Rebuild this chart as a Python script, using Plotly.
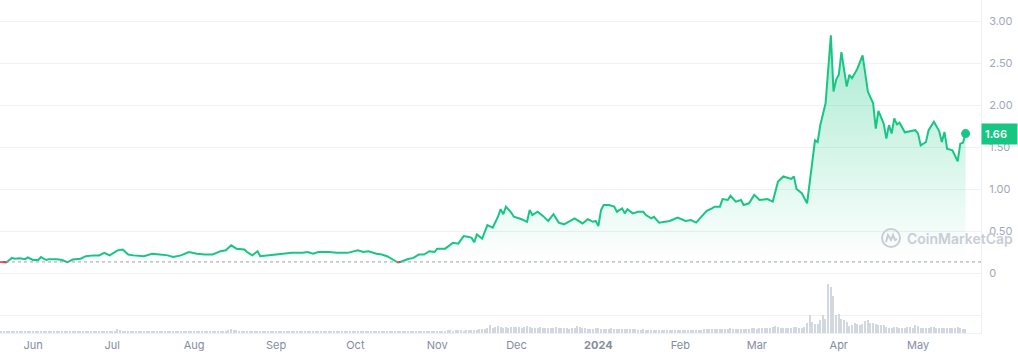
import plotly.graph_objects as go
import pandas as pd

# ---------------- data ----------------
price_dates = [
    "2023-05-19", "2023-05-22", "2023-05-24", "2023-05-25", "2023-05-27", "2023-05-29", "2023-05-30",
    "2023-06-01", "2023-06-03", "2023-06-04", "2023-06-06", "2023-06-07", "2023-06-10", "2023-06-12",
    "2023-06-14", "2023-06-16", "2023-06-19", "2023-06-21", "2023-06-24", "2023-06-26", "2023-06-28",
    "2023-06-30", "2023-07-03", "2023-07-05", "2023-07-07", "2023-07-09", "2023-07-13", "2023-07-16",
    "2023-07-19", "2023-07-22", "2023-07-24", "2023-07-27", "2023-07-30", "2023-08-02", "2023-08-05",
    "2023-08-08", "2023-08-11", "2023-08-13", "2023-08-15", "2023-08-17", "2023-08-20", "2023-08-21",
    "2023-08-23", "2023-08-25", "2023-08-26", "2023-08-29", "2023-09-01", "2023-09-03", "2023-09-07",
    "2023-09-11", "2023-09-13", "2023-09-15", "2023-09-17", "2023-09-21", "2023-09-24", "2023-09-28",
    "2023-10-02", "2023-10-04", "2023-10-06", "2023-10-09", "2023-10-11", "2023-10-13", "2023-10-15",
    "2023-10-17", "2023-10-18", "2023-10-21", "2023-10-23", "2023-10-25", "2023-10-27", "2023-10-29",
    "2023-10-31", "2023-11-01", "2023-11-04", "2023-11-06", "2023-11-07", "2023-11-09", "2023-11-11",
    "2023-11-13", "2023-11-14", "2023-11-15", "2023-11-16", "2023-11-18", "2023-11-20", "2023-11-22",
    "2023-11-24", "2023-11-25", "2023-11-26", "2023-11-27", "2023-11-29", "2023-11-30", "2023-12-03",
    "2023-12-05", "2023-12-06", "2023-12-07", "2023-12-09", "2023-12-11", "2023-12-13", "2023-12-15",
    "2023-12-17", "2023-12-19", "2023-12-21", "2023-12-23", "2023-12-26", "2023-12-28", "2023-12-30",
    "2023-12-31", "2024-01-01", "2024-01-02", "2024-01-03", "2024-01-05", "2024-01-07", "2024-01-08",
    "2024-01-10", "2024-01-11", "2024-01-12", "2024-01-14", "2024-01-16", "2024-01-18", "2024-01-19",
    "2024-01-21", "2024-01-22", "2024-01-24", "2024-01-28", "2024-01-31", "2024-02-03", "2024-02-05",
    "2024-02-07", "2024-02-11", "2024-02-13", "2024-02-14", "2024-02-16", "2024-02-17", "2024-02-19",
    "2024-02-20", "2024-02-22", "2024-02-24", "2024-02-25", "2024-02-27", "2024-02-29", "2024-03-02",
    "2024-03-05", "2024-03-07", "2024-03-09", "2024-03-11", "2024-03-12", "2024-03-14", "2024-03-15",
    "2024-03-16", "2024-03-18", "2024-03-20", "2024-03-23", "2024-03-24", "2024-03-25", "2024-03-27",
    "2024-03-29", "2024-03-30", "2024-03-31", "2024-04-01", "2024-04-02", "2024-04-04", "2024-04-05",
    "2024-04-06", "2024-04-08", "2024-04-10", "2024-04-11", "2024-04-12", "2024-04-14", "2024-04-15",
    "2024-04-16", "2024-04-18", "2024-04-19", "2024-04-20", "2024-04-21", "2024-04-22", "2024-04-23",
    "2024-04-24", "2024-04-26", "2024-04-29", "2024-04-30", "2024-05-01", "2024-05-02", "2024-05-04",
    "2024-05-05", "2024-05-07", "2024-05-09", "2024-05-10", "2024-05-11", "2024-05-12", "2024-05-14",
    "2024-05-16", "2024-05-17", "2024-05-18", "2024-05-19",
]
price_values = [
    0.132, 0.128, 0.18, 0.17, 0.175, 0.165, 0.187,
    0.155, 0.155, 0.19, 0.155, 0.165, 0.165, 0.155,
    0.128, 0.16, 0.17, 0.20, 0.21, 0.21, 0.24,
    0.21, 0.27, 0.28, 0.22, 0.21, 0.20, 0.23,
    0.22, 0.21, 0.19, 0.21, 0.25, 0.23, 0.22,
    0.22, 0.26, 0.27, 0.33, 0.29, 0.28, 0.25,
    0.21, 0.26, 0.20, 0.21, 0.22, 0.23, 0.24,
    0.24, 0.25, 0.23, 0.25, 0.25, 0.24, 0.24,
    0.27, 0.25, 0.26, 0.23, 0.22, 0.20, 0.16,
    0.128, 0.131, 0.167, 0.18, 0.22, 0.22, 0.26,
    0.25, 0.29, 0.29, 0.33, 0.36, 0.35, 0.44,
    0.43, 0.42, 0.365, 0.46, 0.41, 0.57, 0.54,
    0.67, 0.76, 0.70, 0.79, 0.72, 0.67, 0.64,
    0.61, 0.75, 0.69, 0.73, 0.68, 0.62, 0.70,
    0.60, 0.58, 0.62, 0.65, 0.59, 0.64, 0.61,
    0.62, 0.56, 0.75, 0.81, 0.81, 0.79, 0.73,
    0.77, 0.71, 0.76, 0.71, 0.73, 0.73, 0.69,
    0.65, 0.67, 0.60, 0.62, 0.66, 0.62, 0.63,
    0.60, 0.74, 0.77, 0.79, 0.79, 0.88, 0.87,
    0.92, 0.85, 0.87, 0.81, 0.83, 0.93, 0.87,
    0.88, 0.85, 1.09, 1.15, 1.14, 1.12, 1.15,
    1.00, 0.95, 0.83, 1.58, 1.56, 1.76, 2.02,
    2.83, 2.16, 2.30, 2.36, 2.63, 2.22, 2.36,
    2.32, 2.43, 2.59, 2.38, 2.16, 2.02, 1.72,
    1.93, 1.78, 1.60, 1.76, 1.66, 1.84, 1.77,
    1.79, 1.675, 1.69, 1.70, 1.66, 1.52, 1.56,
    1.70, 1.80, 1.69, 1.56, 1.68, 1.48, 1.46,
    1.33, 1.54, 1.55, 1.66,
]

# daily volume (relative units), one list per month, starting at the given date
vol_month_starts = ["2023-05-19", "2023-06-01", "2023-07-01", "2023-08-01", "2023-09-01", "2023-10-01",
                    "2023-11-01", "2023-12-01", "2024-01-01", "2024-02-01", "2024-03-01", "2024-04-01",
                    "2024-05-01"]
vol_may23 = [18, 15, 17, 16, 20, 17, 15, 16, 18, 17, 15, 16, 17]
vol_jun23 = [16, 15, 18, 17, 16, 15, 14, 16, 17, 15, 16, 18, 17, 22, 19, 16, 15, 14, 15, 16, 17, 16, 15, 14,
             16, 17, 15, 16, 18, 17]
vol_jul23 = [20, 25, 38, 32, 24, 20, 18, 17, 19, 18, 17, 16, 18, 20, 19, 17, 16, 18, 17, 16, 15, 17, 18, 16,
             17, 19, 18, 16, 17, 18, 17]
vol_aug23 = [18, 17, 19, 18, 17, 16, 18, 17, 19, 20, 22, 24, 23, 26, 38, 35, 28, 22, 25, 21, 19, 18, 20, 22,
             19, 18, 17, 19, 18, 17, 18]
vol_sep23 = [17, 16, 18, 17, 16, 15, 17, 18, 16, 15, 17, 16, 18, 17, 19, 18, 16, 17, 18, 17, 16, 15, 17, 16,
             18, 17, 16, 15, 17, 16]
vol_oct23 = [18, 19, 17, 16, 18, 17, 16, 15, 17, 16, 18, 17, 16, 18, 17, 16, 18, 19, 17, 18, 20, 19, 21, 22,
             20, 21, 23, 22, 21, 22, 24]
vol_nov23 = [22, 25, 23, 24, 26, 27, 25, 28, 26, 27, 25, 30, 28, 32, 30, 35, 45, 38, 42, 48, 77, 50, 60, 70,
             58, 55, 62, 55, 58, 60]
vol_dec23 = [56, 60, 55, 62, 70, 58, 52, 54, 50, 56, 52, 48, 55, 50, 53, 60, 50, 55, 52, 50, 45, 48, 52, 67,
             58, 50, 48, 45, 42, 45, 48]
vol_jan24 = [50, 45, 42, 40, 44, 46, 42, 40, 43, 45, 42, 38, 40, 36, 38, 35, 33, 36, 34, 32, 35, 33, 31, 30,
             32, 34, 31, 33, 30, 32, 35]
vol_feb24 = [33, 31, 34, 32, 30, 33, 35, 32, 34, 36, 38, 40, 42, 44, 41, 43, 45, 42, 44, 46, 43, 40, 42, 45,
             43, 41, 44, 46, 48]
vol_mar24 = [45, 50, 48, 55, 52, 48, 62, 73, 60, 55, 50, 52, 48, 55, 58, 60, 54, 50, 62, 100, 177, 110, 93, 90,
             127, 177, 140, 493, 460, 367, 183]
vol_apr24 = [193, 143, 127, 110, 70, 85, 100, 90, 83, 87, 120, 127, 103, 100, 87, 80, 77, 83, 60, 55, 50, 62,
             58, 50, 55, 52, 60, 56, 50, 77]
vol_may24 = [70, 55, 50, 48, 52, 56, 58, 50, 52, 48, 46, 50, 55, 52, 48, 60, 52, 45, 43]
vol_by_month = [vol_may23, vol_jun23, vol_jul23, vol_aug23, vol_sep23, vol_oct23, vol_nov23, vol_dec23,
                vol_jan24, vol_feb24, vol_mar24, vol_apr24, vol_may24]

y_tick_vals = [-0.5, 0, 0.5, 1.0, 1.5, 2.0, 2.5, 3.0]
y_tick_text = ["", "0", "0.50", "1.00", "1.50", "2.00", "2.50", "3.00"]
month_ticks = ["2023-06-01", "2023-07-01", "2023-08-01", "2023-09-01", "2023-10-01", "2023-11-01",
               "2023-12-01", "2024-01-01", "2024-02-01", "2024-03-01", "2024-04-01", "2024-05-01"]
month_labels = ["Jun", "Jul", "Aug", "Sep", "Oct", "Nov", "Dec", "<b>2024</b>", "Feb", "Mar", "Apr", "May"]
last_label = "1.66"
watermark = "CoinMarketCap"

# ---------------- styling ----------------
GREEN = "#16c784"
RED = "#ea3943"
GRID = "#eff2f5"
FONT = "Inter, Roboto, sans-serif"

# ---------------- build ----------------
vol_x, vol_y = [], []
for start, vals in zip(vol_month_starts, vol_by_month):
    vol_x += list(pd.date_range(start, periods=len(vals), freq="D"))
    vol_y += vals

base = price_values[0]
ts = pd.to_datetime(price_dates)

# red parts where price is below the opening (baseline) price
red_x, red_y = [], []
for i in range(len(price_values) - 1):
    a, b = price_values[i], price_values[i + 1]
    ta, tb = ts[i], ts[i + 1]
    if a >= base and b >= base:
        continue
    def cross():
        t = (base - a) / (b - a)
        return ta + (tb - ta) * t
    if a < base and b < base:
        red_x += [ta, tb, None]; red_y += [a, b, None]
    elif a < base <= b:
        red_x += [ta, cross(), None]; red_y += [a, base, None]
    else:
        red_x += [cross(), tb, None]; red_y += [base, b, None]

fig = go.Figure()

fig.add_trace(go.Bar(
    x=vol_x, y=vol_y, yaxis="y2", marker=dict(color="#d3d7e0", line=dict(width=0)),
    width=0.45 * 86400000, hoverinfo="skip",
))

fig.add_trace(go.Scatter(
    x=price_dates, y=price_values, mode="lines",
    line=dict(color=GREEN, width=2),
    fill="tozeroy",
    fillgradient=dict(
        type="vertical",
        colorscale=[[0, "rgba(22,199,132,0)"], [1, "rgba(22,199,132,0.38)"]],
        start=base, stop=2.9,
    ),
))

fig.add_trace(go.Scatter(x=red_x, y=red_y, mode="lines", line=dict(color=RED, width=2),
                         hoverinfo="skip"))

fig.add_trace(go.Scatter(x=[price_dates[-1]], y=[price_values[-1]], mode="markers",
                         marker=dict(color=GREEN, size=9)))

plot_w = 1018 - 37
plot_h = 356 - 23

fig.update_layout(
    width=1018, height=356,
    margin=dict(l=0, r=37, t=0, b=23),
    paper_bgcolor="white", plot_bgcolor="white",
    showlegend=False,
    font=dict(family=FONT),
    bargap=0,
    xaxis=dict(
        type="date",
        range=["2023-05-19 12:00", "2024-05-24 20:00"],
        tickvals=month_ticks, ticktext=month_labels,
        showgrid=False, zeroline=False,
        showline=True, linecolor=GRID, linewidth=1,
        ticks="", tickfont=dict(size=11, color="#858ca2", family=FONT),
        ticklabelstandoff=2,
    ),
    yaxis=dict(
        side="right",
        range=[-0.714, 3.25],
        tickvals=y_tick_vals, ticktext=y_tick_text,
        showgrid=True, gridcolor=GRID, gridwidth=1,
        zeroline=False,
        showline=True, linecolor=GRID, linewidth=1,
        ticks="", tickfont=dict(size=11, color="#a1a7bb", family=FONT),
        ticklabelstandoff=5,
    ),
    yaxis2=dict(overlaying="y", range=[0, 3330], visible=False),
)

# dotted baseline at opening price
fig.add_shape(type="line", xref="paper", x0=0, x1=1, yref="y", y0=base, y1=base,
              line=dict(color="#9aa1b0", width=1, dash="dot"))

# watermark logo
wm_x = 891 / plot_w
wm_y = (plot_h - 238) / plot_h
fig.add_shape(type="circle", xref="paper", yref="paper", xsizemode="pixel", ysizemode="pixel",
              xanchor=wm_x, yanchor=wm_y, x0=-9, x1=9, y0=-9, y1=9,
              line=dict(color="#c9cdd6", width=2))
fig.add_shape(type="path", xref="paper", yref="paper", xsizemode="pixel", ysizemode="pixel",
              xanchor=wm_x, yanchor=wm_y,
              path="M -5,-4 L -3,3 L 0,-2 L 2,3 L 4,-2 L 6,-1",
              line=dict(color="#c9cdd6", width=2))
fig.add_annotation(text=watermark, xref="paper", yref="paper", x=905 / plot_w, y=wm_y,
                   xanchor="left", yanchor="middle", showarrow=False,
                   font=dict(size=14, color="#c9cdd6", family=FONT, weight=600))

# last price label
fig.add_annotation(text=last_label, xref="paper", x=1, xanchor="left", yref="y", y=price_values[-1],
                   yanchor="middle", showarrow=False, bgcolor=GREEN, borderpad=3,
                   width=29, align="left",
                   font=dict(size=11, color="white", family=FONT, weight=600))

fig.write_html("out.html", config={"displayModeBar": False},
               post_script="document.body.style.margin='0';")
